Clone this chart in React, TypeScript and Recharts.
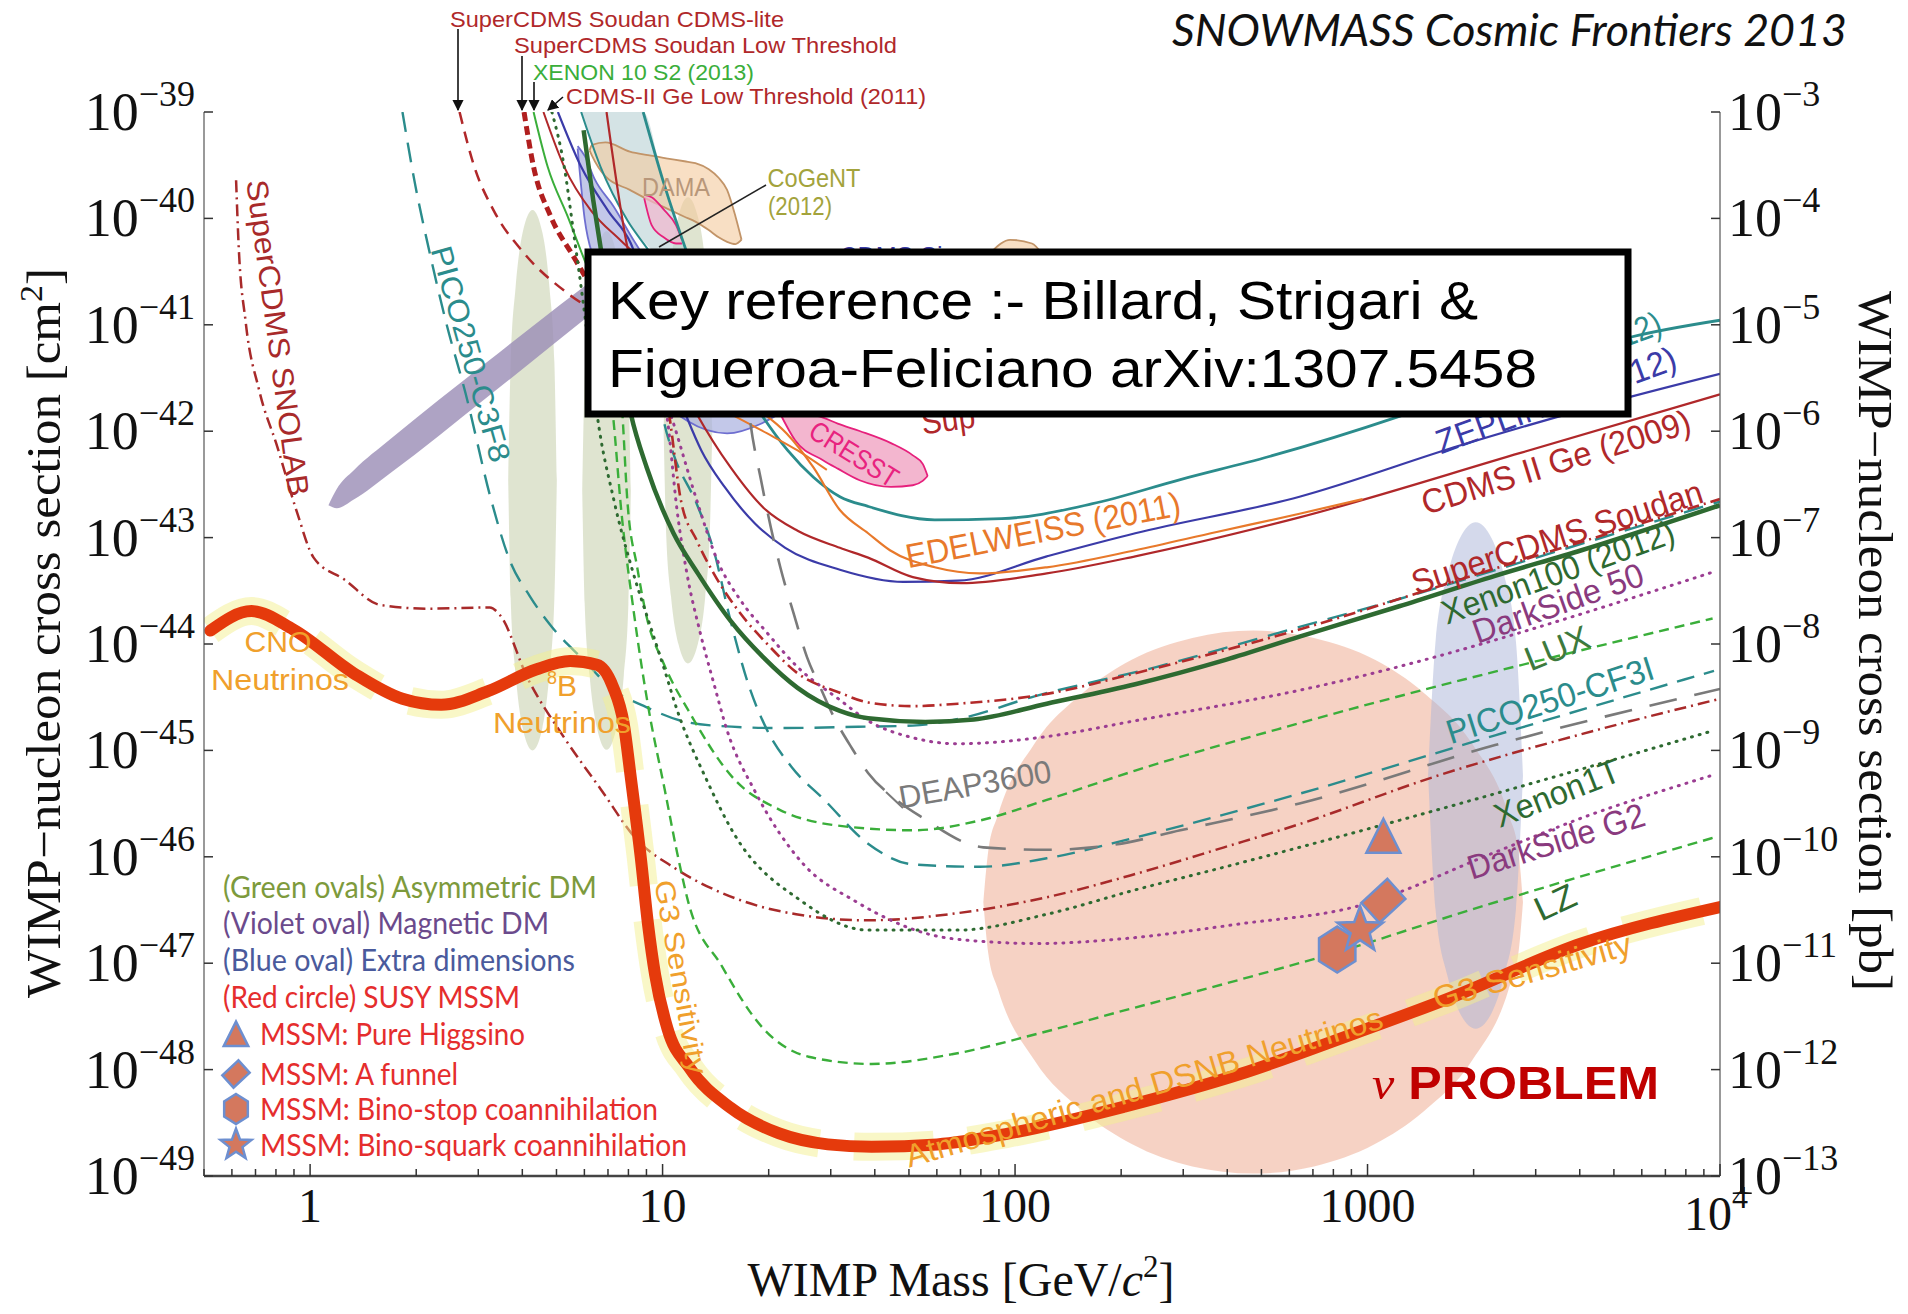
import { ComposedChart, Line, Area, Scatter, XAxis, YAxis } from 'recharts'

// every point is [log10 mass in GeV, log10 cross section in cm^2]
type P = [number, number]
// bands are [log10 mass, log10 lower edge, log10 upper edge]
type R = [number, number, number]

const nuFloor: P[] = [
  [-0.283, -43.874], [-0.166, -43.691], [-0.048, -43.863], [0.124, -44.275], [0.262, -44.515],
  [0.372, -44.572], [0.503, -44.446], [0.641, -44.24], [0.738, -44.16], [0.814, -44.195],
  [0.859, -44.4], [0.89, -44.755], [0.91, -45.259], [0.938, -46.003], [0.959, -46.643],
  [0.979, -47.112], [1.014, -47.616], [1.076, -47.982], [1.193, -48.359], [1.331, -48.6],
  [1.469, -48.703], [1.593, -48.726], [1.779, -48.703], [1.983, -48.6], [2.31, -48.348],
  [2.641, -48.039], [2.952, -47.673], [3.231, -47.33], [3.607, -46.815], [4.0, -46.472],
]

const snolab: P[] = [
  [-0.21, -39.641], [-0.203, -40.236], [-0.183, -40.968], [-0.145, -41.609], [-0.093, -42.147],
  [-0.038, -42.753], [0.01, -43.188], [0.097, -43.394], [0.2, -43.634], [0.338, -43.668],
  [0.51, -43.657], [0.538, -43.725], [0.617, -44.32], [0.721, -44.881], [0.824, -45.362],
  [0.928, -45.842], [1.034, -46.105], [1.207, -46.391], [1.379, -46.54], [1.583, -46.597],
  [1.838, -46.529], [2.09, -46.38], [2.341, -46.162], [2.593, -45.911], [2.807, -45.693],
  [3.19, -45.247], [3.607, -44.847], [4.0, -44.515],
]

const picoC3F8: P[] = [
  [0.262, -39.0], [0.297, -39.664], [0.338, -40.304], [0.386, -40.979], [0.441, -41.643],
  [0.514, -42.65], [0.566, -43.211], [0.624, -43.554], [0.686, -43.84], [0.772, -44.138],
  [0.862, -44.435], [0.955, -44.595], [1.052, -44.721], [1.145, -44.767], [1.334, -44.79],
  [1.555, -44.778], [1.71, -44.767], [1.848, -44.698], [2.055, -44.492], [2.4, -44.217],
  [2.745, -43.897], [3.09, -43.577], [3.434, -43.233], [4.0, -42.661],
]

const xenon100: P[] = [
  [0.776, -39.172], [0.803, -39.824], [0.824, -40.27], [0.866, -41.037], [0.91, -41.838],
  [0.955, -42.341], [1.031, -42.959], [1.1, -43.336], [1.193, -43.783], [1.286, -44.126],
  [1.383, -44.412], [1.503, -44.629], [1.583, -44.698], [1.745, -44.732], [1.883, -44.709],
  [2.09, -44.561], [2.341, -44.378], [2.597, -44.149], [2.807, -43.931], [3.09, -43.645],
  [3.362, -43.359], [3.607, -43.119], [4.0, -42.696],
]

const soudan: P[] = [
  [0.986, -41.151], [1.021, -41.895], [1.052, -42.65], [1.097, -43.027], [1.145, -43.336],
  [1.221, -43.714], [1.297, -44.0], [1.383, -44.275], [1.503, -44.458], [1.583, -44.549],
  [1.71, -44.584], [1.838, -44.561], [2.09, -44.469], [2.341, -44.275], [2.597, -44.057],
  [2.807, -43.863], [3.362, -43.291], [4.0, -42.638],
]

const picoCF3I: P[] = [
  [0.969, -41.151], [1.003, -41.895], [1.031, -42.215], [1.097, -42.684], [1.145, -43.119],
  [1.193, -43.783], [1.241, -44.355], [1.297, -44.812], [1.366, -45.156], [1.459, -45.465],
  [1.583, -45.877], [1.71, -46.071], [1.9, -46.094], [2.09, -46.014], [2.341, -45.819],
  [2.807, -45.407], [3.362, -44.858], [3.983, -44.252],
]

const deap3600: P[] = [
  [1.234, -41.494], [1.248, -41.895], [1.279, -42.455], [1.307, -42.902], [1.334, -43.279],
  [1.372, -43.714], [1.41, -44.126], [1.448, -44.412], [1.486, -44.687], [1.538, -44.984],
  [1.583, -45.213], [1.659, -45.453], [1.734, -45.625], [1.91, -45.911], [2.09, -45.934],
  [2.279, -45.888], [2.469, -45.751], [2.807, -45.499], [3.362, -44.95], [4.0, -44.423],
]

const lux: P[] = [
  [0.866, -41.037], [0.886, -41.838], [0.9, -42.65], [0.928, -43.279], [0.955, -43.748],
  [1.003, -44.183], [1.076, -44.641], [1.203, -45.27], [1.331, -45.556], [1.521, -45.716],
  [1.71, -45.751], [1.9, -45.659], [2.09, -45.465], [2.341, -45.19], [2.807, -44.744],
  [3.979, -43.76],
]

const lz: P[] = [
  [0.831, -41.151], [0.859, -41.838], [0.883, -42.753], [0.917, -43.668], [0.959, -44.584],
  [1.007, -45.384], [1.041, -45.957], [1.072, -46.414], [1.169, -47.032], [1.283, -47.604],
  [1.414, -47.879], [1.593, -47.947], [1.821, -47.856], [2.066, -47.661], [2.31, -47.444],
  [2.634, -47.158], [2.962, -46.849], [3.231, -46.563], [3.983, -45.819],
]

const xenon1T: P[] = [
  [0.686, -39.0], [0.721, -39.515], [0.748, -40.144], [0.769, -40.648], [0.793, -41.265],
  [0.814, -41.838], [0.862, -42.65], [0.917, -43.336], [0.966, -43.84], [1.003, -44.217],
  [1.041, -44.618], [1.124, -45.27], [1.203, -45.785], [1.393, -46.414], [1.583, -46.689],
  [1.838, -46.689], [2.09, -46.54], [2.341, -46.311], [2.597, -46.094], [2.807, -45.911],
  [3.362, -45.407], [3.983, -44.812],
]

const darkSide50: P[] = [
  [0.952, -41.151], [1.028, -41.895], [1.097, -42.65], [1.155, -43.211], [1.221, -43.588],
  [1.297, -43.897], [1.383, -44.217], [1.503, -44.526], [1.583, -44.721], [1.71, -44.881],
  [1.838, -44.938], [2.09, -44.87], [2.341, -44.721], [2.807, -44.435], [3.979, -43.325],
]

const darkSideG2: P[] = [
  [0.969, -41.151], [1.014, -41.895], [1.041, -42.741], [1.069, -43.336], [1.107, -43.897],
  [1.145, -44.366], [1.183, -44.812], [1.262, -45.384], [1.4, -46.071], [1.545, -46.414],
  [1.821, -46.769], [2.066, -46.815], [2.31, -46.769], [2.634, -46.632], [2.962, -46.472],
  [3.362, -45.957], [3.607, -45.636], [3.976, -45.236],
]

const simple2012: P[] = [
  [0.945, -39.0], [1.003, -39.664], [1.072, -40.35], [1.193, -41.38], [1.279, -41.838],
  [1.355, -42.181], [1.428, -42.433], [1.503, -42.616], [1.583, -42.707], [1.772, -42.833],
  [1.962, -42.822], [2.217, -42.684], [2.469, -42.455], [2.721, -42.238], [3.09, -41.86],
  [3.434, -41.449], [3.745, -41.117], [4.0, -40.957],
]

const tealEdge: P[] = [
  [0.769, -39.0], [0.824, -39.515], [0.9, -40.018], [0.966, -40.327], [1.055, -40.808],
]

const zeplin: P[] = [
  [0.703, -39.0], [0.769, -39.515], [0.845, -39.927], [0.91, -40.236], [1.003, -41.265],
  [1.072, -41.895], [1.11, -42.181], [1.176, -42.524], [1.262, -42.867], [1.348, -43.096],
  [1.503, -43.302], [1.683, -43.416], [1.838, -43.405], [2.09, -43.176], [2.341, -42.959],
  [2.807, -42.616], [3.262, -42.135], [3.745, -41.677], [4.0, -41.46],
]

const cdmsGe: P[] = [
  [0.841, -39.0], [0.9, -40.27], [0.986, -41.094], [1.097, -41.838], [1.193, -42.341],
  [1.286, -42.719], [1.383, -42.936], [1.503, -43.096], [1.583, -43.188], [1.71, -43.371],
  [1.848, -43.428], [2.09, -43.336], [2.341, -43.176], [2.807, -42.81], [3.434, -42.204],
  [4.0, -41.654],
]

const edelweiss: P[] = [
  [1.279, -41.815], [1.352, -42.021], [1.428, -42.341], [1.503, -42.741], [1.583, -42.959],
  [1.645, -43.119], [1.772, -43.279], [1.9, -43.336], [2.09, -43.279], [2.341, -43.119],
  [2.572, -42.947], [2.807, -42.776], [2.986, -42.638],
]

const edelweissLow: P[] = [[1.193, -41.838], [1.297, -42.021], [1.383, -42.181], [1.466, -42.364]]

const cdmsLite: P[] = [
  [0.424, -39.0], [0.466, -39.515], [0.521, -39.927], [0.607, -40.327], [0.731, -40.705],
  [0.848, -40.945], [0.986, -41.151],
]

const soudanLowThr: P[] = [
  [0.607, -39.0], [0.634, -39.515], [0.683, -39.984], [0.748, -40.362], [0.786, -40.579],
  [0.917, -41.265], [1.124, -41.666], [1.366, -41.815], [1.607, -41.792],
]

const xenon10S2: P[] = [[0.634, -39.0], [0.674, -39.515], [0.731, -39.984], [0.786, -40.453], [0.848, -40.922]]

const cdmsGeLowThr: P[] = [[0.662, -39.0], [0.721, -39.515], [0.797, -39.927], [0.879, -40.201], [0.986, -40.522]]

// shaded regions
const asymOvalA: R[] = [
  [0.562, -42.461, -42.461], [0.569, -43.571, -41.351], [0.583, -44.275, -40.648], [0.603, -44.79, -40.133],
  [0.631, -45.001, -39.921], [0.659, -44.79, -40.133], [0.679, -44.275, -40.648], [0.693, -43.571, -41.351],
  [0.7, -42.461, -42.461],
]
const asymOvalB: R[] = [
  [0.772, -42.558, -42.558], [0.779, -43.622, -41.494], [0.793, -44.297, -40.819], [0.814, -44.789, -40.327],
  [0.841, -44.995, -40.121], [0.869, -44.789, -40.327], [0.89, -44.297, -40.819], [0.903, -43.622, -41.494],
  [0.91, -42.558, -42.558],
]
const asymOvalC: R[] = [
  [1.003, -41.992, -41.992], [1.01, -42.947, -41.037], [1.024, -43.556, -40.428], [1.045, -44.001, -39.983],
  [1.072, -44.183, -39.801], [1.1, -44.001, -39.983], [1.121, -43.556, -40.428], [1.134, -42.947, -41.037],
  [1.141, -41.992, -41.992],
]
const magneticOval: R[] = [
  [0.052, -42.696, -42.696], [0.076, -42.724, -42.541], [0.124, -42.643, -42.368], [0.228, -42.394, -42.074],
  [0.503, -41.679, -41.347], [0.676, -41.22, -40.899], [0.814, -40.849, -40.551], [0.917, -40.545, -40.316],
]
const susyCircle: R[] = [
  [1.91, -46.426, -46.426], [1.924, -46.906, -45.945], [1.952, -47.249, -45.602], [2.055, -47.913, -44.938],
  [2.193, -48.394, -44.458], [2.331, -48.7, -44.149], [2.503, -48.91, -43.943], [2.676, -48.977, -43.874],
  [2.848, -48.91, -43.943], [3.021, -48.7, -44.149], [3.159, -48.394, -44.458], [3.297, -47.913, -44.938],
  [3.4, -47.249, -45.602], [3.428, -46.906, -45.945], [3.441, -46.426, -46.426],
]
const extraDimOval: R[] = [
  [3.172, -45.236, -45.236], [3.193, -46.494, -43.977], [3.228, -47.135, -43.336], [3.262, -47.467, -43.005],
  [3.307, -47.615, -42.856], [3.352, -47.467, -43.005], [3.386, -47.135, -43.336], [3.421, -46.494, -43.977],
  [3.441, -45.236, -45.236],
]
const dama: R[] = [
  [0.793, -39.36, -39.36], [0.8, -39.412, -39.309], [0.838, -39.606, -39.286], [0.907, -39.732, -39.372],
  [0.959, -39.824, -39.406], [1.01, -39.904, -39.435], [1.062, -39.984, -39.463], [1.093, -40.03, -39.481],
  [1.131, -40.11, -39.538], [1.159, -40.178, -39.618], [1.183, -40.22, -39.732], [1.207, -40.241, -39.984],
  [1.224, -40.2, -40.2],
]
const cresst: R[] = [
  [1.334, -41.838, -41.803], [1.376, -42.085, -41.826], [1.455, -42.272, -41.872], [1.497, -42.352, -41.929],
  [1.559, -42.461, -41.998], [1.648, -42.524, -42.112], [1.71, -42.508, -42.227], [1.738, -42.467, -42.307],
  [1.752, -42.421, -42.421],
]
const cogent: R[] = [
  [0.948, -39.812, -39.778], [0.969, -40.064, -39.801], [1.003, -40.178, -39.915], [1.038, -40.236, -40.064],
  [1.055, -40.236, -40.201],
]
const cdmsSi: R[] = [
  [0.759, -39.343, -39.32], [0.779, -40.007, -39.412], [0.807, -40.408, -39.629], [0.862, -40.865, -39.892],
  [0.917, -41.265, -40.201], [1.003, -41.724, -40.636], [1.072, -41.907, -40.979], [1.183, -42.021, -41.38],
  [1.279, -41.93, -41.666], [1.324, -41.849, -41.838],
]
const tealRegion: R[] = [
  [0.769, -39.0, -39.0], [0.824, -39.515, -39.0], [0.9, -40.018, -39.0], [0.945, -40.213, -39.0],
  [1.003, -40.407, -39.664], [1.072, -40.693, -40.35], [1.11, -40.865, -40.865],
]
const damaSmall: R[] = [[1.934, -40.31, -40.31], [1.986, -40.407, -40.201], [2.048, -40.407, -40.236], [2.076, -40.33, -40.33]]

// MSSM benchmark points
const higgsino: P[] = [[3.045, -45.83]]
const aFunnel: P[] = [[3.045, -46.414]]
const binoSquark: P[] = [[2.979, -46.689]]
const binoStop: P[] = [[2.914, -46.872]]

const massTicks = [
  0.5, 0.6, 0.7, 0.8, 0.9, 1, 2, 3, 4, 5, 6, 7, 8, 9, 10, 20, 30, 40, 50, 60, 70, 80, 90,
  100, 200, 300, 400, 500, 600, 700, 800, 900, 1000, 2000, 3000, 4000, 5000, 6000, 7000, 8000, 9000, 10000,
]
const cmExp = [-49, -48, -47, -46, -45, -44, -43, -42, -41, -40, -39]
const pbExp = [-13, -12, -11, -10, -9, -8, -7, -6, -5, -4, -3]

const toPts = (p: P[]) => p.map(([m, s]) => ({ m: 10 ** m, s: 10 ** s }))
const toBand = (r: R[]) => r.map(([m, lo, hi]) => ({ m: 10 ** m, r: [10 ** lo, 10 ** hi] }))

const SERIF = '"Liberation Serif", "DejaVu Serif", serif'
const SANS = '"Liberation Sans", Arial, sans-serif'
const CAL = 'Lato, "Open Sans", sans-serif'

const DARKRED = '#b0282a'
const TEAL = '#2b8c8c'
const INDIGO = '#3b3ba8'
const ORANGE = '#e8792b'
const LGREEN = '#3aae3a'
const DGREEN = '#2e6a31'
const PURPLE = '#9b3d92'
const GREY = '#7a7a7a'
const NU = '#f0a02c'

const DOT = '1 7'
const DASHDOT = '12 5 2 5'

const curves = [
  { id: 'snolab', d: snolab, c: '#a82a2a', w: 2.5, dash: DASHDOT },
  { id: 'cdmsLite', d: cdmsLite, c: DARKRED, w: 2.5, dash: '12 8' },
  { id: 'lowThr', d: soudanLowThr, c: '#b01e1e', w: 5, dash: '9 5' },
  { id: 'xe10', d: xenon10S2, c: LGREEN, w: 2 },
  { id: 'cdmsLT', d: cdmsGeLowThr, c: DARKRED, w: 2 },
  { id: 'tealEdge', d: tealEdge, c: TEAL, w: 2 },
  { id: 'simple', d: simple2012, c: TEAL, w: 2.8 },
  { id: 'zeplin', d: zeplin, c: INDIGO, w: 2.2 },
  { id: 'cdmsGe', d: cdmsGe, c: DARKRED, w: 2.2 },
  { id: 'edelLow', d: edelweissLow, c: ORANGE, w: 2 },
  { id: 'edel', d: edelweiss, c: ORANGE, w: 2.2 },
  { id: 'picoC3F8', d: picoC3F8, c: TEAL, w: 2.4, dash: '20 11' },
  { id: 'picoCF3I', d: picoCF3I, c: TEAL, w: 2.4, dash: '18 10' },
  { id: 'deap', d: deap3600, c: GREY, w: 2.6, dash: '28 18' },
  { id: 'lux', d: lux, c: LGREEN, w: 2.4, dash: '10 6' },
  { id: 'lz', d: lz, c: LGREEN, w: 2.4, dash: '10 6' },
  { id: 'ds50', d: darkSide50, c: PURPLE, w: 3, dash: DOT, cap: 'round' },
  { id: 'dsG2', d: darkSideG2, c: PURPLE, w: 3, dash: DOT, cap: 'round' },
  { id: 'xe1t', d: xenon1T, c: DGREEN, w: 3, dash: DOT, cap: 'round' },
  { id: 'soudan', d: soudan, c: '#b32a2a', w: 2.6, dash: DASHDOT },
  { id: 'xe100', d: xenon100, c: DGREEN, w: 4.5 },
]

const regions = [
  { id: 'susy', d: susyCircle, fill: '#f2c1ad', op: 0.72 },
  { id: 'xdim', d: extraDimOval, fill: '#aab3d8', op: 0.5 },
  { id: 'asymA', d: asymOvalA, fill: '#c9d2b0', op: 0.6 },
  { id: 'asymB', d: asymOvalB, fill: '#c9d2b0', op: 0.6 },
  { id: 'asymC', d: asymOvalC, fill: '#c9d2b0', op: 0.6 },
  { id: 'magnetic', d: magneticOval, fill: '#9a8cb5', op: 0.8 },
  { id: 'teal', d: tealRegion, fill: '#b7d0d3', op: 0.6 },
  { id: 'dama', d: dama, fill: '#f4c99c', op: 0.6, stroke: '#c29468' },
  { id: 'damaSmall', d: damaSmall, fill: '#f4c99c', op: 0.6, stroke: '#c29468' },
  { id: 'cdmsSi', d: cdmsSi, fill: '#a9b1e0', op: 0.7, stroke: '#6e6ed0' },
  { id: 'cogent', d: cogent, fill: '#f2b6cf', op: 0.7, stroke: '#e6207c' },
  { id: 'cresst', d: cresst, fill: '#ec8fb5', op: 0.65, stroke: '#e6207c' },
]

const MK_FILL = '#d4785e'
const MK_STROKE = '#6d8fd0'

const triShape = (cx: number, cy: number, k = 1) => (
  <polygon
    points={`${cx},${cy - 20 * k} ${cx - 17 * k},${cy + 14 * k} ${cx + 17 * k},${cy + 14 * k}`}
    fill={MK_FILL}
    stroke={MK_STROKE}
    strokeWidth={2.5}
  />
)
const diamondShape = (cx: number, cy: number, k = 1) => (
  <polygon
    points={`${cx + 4 * k},${cy - 22 * k} ${cx + 22 * k},${cy - 2 * k} ${cx - 4 * k},${cy + 22 * k} ${cx - 22 * k},${cy + 2 * k}`}
    fill={MK_FILL}
    stroke={MK_STROKE}
    strokeWidth={2.5}
  />
)
const hexShape = (cx: number, cy: number, k = 1) => {
  const pts = [0, 60, 120, 180, 240, 300].map((a) => {
    const t = ((a - 90) * Math.PI) / 180
    return `${cx + 21 * k * Math.cos(t)},${cy + 23 * k * Math.sin(t)}`
  })
  return <polygon points={pts.join(' ')} fill={MK_FILL} stroke={MK_STROKE} strokeWidth={2.5} />
}
const starShape = (cx: number, cy: number, k = 1) => {
  const pts: string[] = []
  for (let i = 0; i < 10; i++) {
    const r = (i % 2 === 0 ? 24 : 10) * k
    const t = ((i * 36 - 90) * Math.PI) / 180
    pts.push(`${cx + r * Math.cos(t)},${cy + r * Math.sin(t)}`)
  }
  return <polygon points={pts.join(' ')} fill={MK_FILL} stroke={MK_STROKE} strokeWidth={2.5} />
}

const isDecade = (v: number) => Math.abs(Math.log10(v) - Math.round(Math.log10(v))) < 1e-6

function MassTick({ x, y, payload }: any) {
  const v = payload.value as number
  const major = isDecade(v)
  const e = Math.round(Math.log10(v))
  return (
    <g>
      <line x1={x} x2={x} y1={y} y2={y - (major ? 12 : 7)} stroke="#333" strokeWidth={1.5} />
      {major && e < 4 && (
        <text x={x} y={y + 46} textAnchor="middle" fontFamily={SERIF} fontSize={48} fill="#111">{v}</text>
      )}
      {major && e === 4 && (
        <text x={x - 4} y={y + 54} textAnchor="middle" fontFamily={SERIF} fontSize={48} fill="#111">
          10<tspan dy={-22} fontSize={32}>4</tspan>
        </text>
      )}
    </g>
  )
}

function TopTick({ x, y, payload }: any) {
  const major = isDecade(payload.value)
  return <line x1={x} x2={x} y1={y} y2={y + (major ? 12 : 7)} stroke="#555" strokeWidth={1.2} />
}

function CmTick({ x, y, payload }: any) {
  const e = Math.round(Math.log10(payload.value))
  return (
    <g>
      <line x1={x} x2={x + 9} y1={y} y2={y} stroke="#333" strokeWidth={1.5} />
      <text x={x - 9} y={y + 18} textAnchor="end" fontFamily={SERIF} fontSize={54} fill="#111">
        10<tspan dy={-24} fontSize={36}>{'\u2212' + -e}</tspan>
      </text>
    </g>
  )
}

function PbTick({ x, y, payload }: any) {
  const e = Math.round(Math.log10(payload.value))
  return (
    <g>
      <line x1={x - 9} x2={x} y1={y} y2={y} stroke="#333" strokeWidth={1.5} />
      <text x={x + 8} y={y + 18} textAnchor="start" fontFamily={SERIF} fontSize={54} fill="#111">
        10<tspan dy={-24} fontSize={36}>{'\u2212' + -e}</tspan>
      </text>
    </g>
  )
}

type Tag = { t: string; x: number; y: number; a?: number; c: string; fs: number; w?: number }

// labels along the curves, centred on (x, y)
const curveTags: Tag[] = [
  { t: 'SuperCDMS SNOLAB', x: 278, y: 338, a: 82.3, c: '#a82a2a', fs: 30, w: 319 },
  { t: 'PICO250-C3F8', x: 471, y: 354, a: 74.2, c: TEAL, fs: 30, w: 223 },
  { t: 'DAMA', x: 676, y: 187, c: '#b8977a', fs: 26, w: 68 },
  { t: 'CoGeNT', x: 814, y: 178, c: '#a3a33c', fs: 26, w: 93 },
  { t: '(2012)', x: 800, y: 206, c: '#a3a33c', fs: 26, w: 64 },
  { t: 'CDMS Si', x: 891, y: 256, c: INDIGO, fs: 28, w: 103 },
  { t: 'CRESST', x: 854, y: 454, a: 32, c: '#e8237f', fs: 28, w: 99 },
  { t: 'EDELWEISS (2011)', x: 1043, y: 530, a: -11, c: ORANGE, fs: 34, w: 279 },
  { t: 'CDMS II Ge  (2009)', x: 1556, y: 462, a: -17.3, c: DARKRED, fs: 34, w: 280 },
  { t: 'ZEPLIN III (2012)', x: 1556, y: 400, a: -19.9, c: INDIGO, fs: 34, w: 253 },
  { t: 'SIMPLE (2012)', x: 1566, y: 356, a: -20, c: TEAL, fs: 34, w: 200 },
  { t: 'Sup', x: 948, y: 419, a: -8, c: DARKRED, fs: 34, w: 54 },
  { t: 'SuperCDMS Soudan', x: 1557, y: 537, a: -17.8, c: DARKRED, fs: 34, w: 304 },
  { t: 'Xenon100 (2012)', x: 1558, y: 572, a: -19.8, c: DGREEN, fs: 34, w: 245 },
  { t: 'DarkSide 50', x: 1558, y: 603, a: -19.5, c: '#8a3a7e', fs: 34, w: 179 },
  { t: 'LUX', x: 1557, y: 648, a: -22, c: '#3d7a3d', fs: 34, w: 67 },
  { t: 'PICO250-CF3I', x: 1550, y: 700, a: -17.8, c: TEAL, fs: 34, w: 216 },
  { t: 'DEAP3600', x: 975, y: 784, a: -10, c: GREY, fs: 32, w: 154 },
  { t: 'Xenon1T', x: 1557, y: 793, a: -21.3, c: DGREEN, fs: 34, w: 132 },
  { t: 'DarkSide G2', x: 1556, y: 841, a: -17.4, c: '#8a3a7e', fs: 34, w: 184 },
  { t: 'LZ', x: 1555, y: 902, a: -25, c: DGREEN, fs: 34, w: 42 },
  { t: 'CNO', x: 278, y: 641, c: NU, fs: 30, w: 67 },
  { t: 'Neutrinos', x: 280, y: 679, c: NU, fs: 30, w: 138 },
  { t: 'Neutrinos', x: 562, y: 722, c: NU, fs: 30, w: 138 },
  { t: 'G3 Sensitivity', x: 681, y: 977, a: 80, c: NU, fs: 28, w: 197 },
  { t: 'Atmospheric and DSNB Neutrinos', x: 1144, y: 1087, a: -16.4, c: NU, fs: 32, w: 496 },
  { t: 'G3 Sensitivity', x: 1532, y: 971, a: -15.9, c: NU, fs: 32, w: 205 },
]

// experiment names above the frame, with arrows down to the axis
const topTags = [
  { t: 'SuperCDMS Soudan CDMS-lite', x: 450, y: 27, w: 334, c: DARKRED },
  { t: 'SuperCDMS Soudan Low Threshold', x: 514, y: 53, w: 383, c: DARKRED },
  { t: 'XENON 10 S2 (2013)', x: 533, y: 80, w: 221, c: LGREEN },
  { t: 'CDMS-II Ge Low Threshold (2011)', x: 566, y: 104, w: 360, c: DARKRED },
]
const arrows = [
  [458, 29, 458, 110],
  [522, 56, 522, 110],
  [534, 82, 534, 110],
  [563, 97, 548, 110],
]

const legendRows = [
  { t: '(Green ovals) Asymmetric DM', x: 223, y: 898, w: 374, c: '#7d9a3c' },
  { t: '(Violet oval) Magnetic DM', x: 223, y: 934, w: 326, c: '#6b4a8c' },
  { t: '(Blue oval) Extra dimensions', x: 223, y: 971, w: 352, c: '#4a5a9c' },
  { t: '(Red circle) SUSY MSSM', x: 223, y: 1008, w: 297, c: '#e52d2d' },
  { t: 'MSSM: Pure Higgsino', x: 260, y: 1045, w: 265, c: '#e52d2d' },
  { t: 'MSSM: A funnel', x: 260, y: 1085, w: 198, c: '#e52d2d' },
  { t: 'MSSM: Bino-stop coannihilation', x: 260, y: 1120, w: 398, c: '#e52d2d' },
  { t: 'MSSM: Bino-squark coannihilation', x: 260, y: 1156, w: 427, c: '#e52d2d' },
]

function Overlay() {
  return (
    <svg width={1908} height={1314} style={{ position: 'absolute', left: 0, top: 0, pointerEvents: 'none' }}>
      <defs>
        <marker id="arr" viewBox="0 0 10 10" refX="9" refY="5" markerWidth="7" markerHeight="7" orient="auto">
          <path d="M0,0 L10,5 L0,10 z" fill="#111" />
        </marker>
      </defs>

      {curveTags.map((g, i) => (
        <text
          key={i}
          transform={`translate(${g.x},${g.y}) rotate(${g.a ?? 0})`}
          textAnchor="middle"
          dy="0.35em"
          fontFamily={SANS}
          fontSize={g.fs}
          fill={g.c}
          textLength={g.w}
          lengthAdjust="spacingAndGlyphs"
        >
          {g.t}
        </text>
      ))}
      <text x={562} y={696} textAnchor="middle" fontFamily={SANS} fontSize={30} fill={NU}>
        <tspan fontSize={18} dy={-12}>8</tspan>
        <tspan dy={12}>B</tspan>
      </text>

      <line x1={766} y1={185} x2={659} y2={247} stroke="#222" strokeWidth={1.5} />
      <line x1={886} y1={792} x2={903} y2={808} stroke={GREY} strokeWidth={2} />

      {topTags.map((g, i) => (
        <text key={i} x={g.x} y={g.y} fontFamily={SANS} fontSize={22} fill={g.c} textLength={g.w} lengthAdjust="spacingAndGlyphs">
          {g.t}
        </text>
      ))}
      {arrows.map(([x1, y1, x2, y2], i) => (
        <line key={i} x1={x1} y1={y1} x2={x2} y2={y2} stroke="#111" strokeWidth={1.6} markerEnd="url(#arr)" />
      ))}

      {legendRows.map((g, i) => (
        <text key={i} x={g.x} y={g.y} fontFamily={CAL} fontSize={30} fill={g.c} textLength={g.w} lengthAdjust="spacingAndGlyphs">
          {g.t}
        </text>
      ))}
      {triShape(236, 1036, 0.72)}
      {diamondShape(236, 1074, 0.62)}
      {hexShape(236, 1109, 0.65)}
      {starShape(236, 1145, 0.68)}

      <text x={1372} y={1099} fontFamily={SANS} fontWeight="bold" fontSize={46} fill="#c00000" textLength={287} lengthAdjust="spacingAndGlyphs">
        <tspan fontFamily={SERIF} fontWeight="normal" fontStyle="italic">ν</tspan> PROBLEM
      </text>

      <text x={1172} y={46} fontFamily={CAL} fontStyle="italic" fontSize={44} fill="#111" textLength={675} lengthAdjust="spacingAndGlyphs">
        SNOWMASS Cosmic Frontiers 2013
      </text>

      <text transform="translate(43,633) rotate(-90)" textAnchor="middle" dy="0.35em" fontFamily={SERIF} fontSize={48} fill="#111" textLength={730} lengthAdjust="spacingAndGlyphs">
        WIMP{'\u2212'}nucleon cross section [cm<tspan dy={-18} fontSize={32}>2</tspan><tspan dy={18}>]</tspan>
      </text>
      <text transform="translate(1876,641) rotate(90)" textAnchor="middle" dy="0.35em" fontFamily={SERIF} fontSize={48} fill="#111" textLength={700} lengthAdjust="spacingAndGlyphs">
        WIMP{'\u2212'}nucleon cross section [pb]
      </text>
      <text x={961} y={1296} textAnchor="middle" fontFamily={SERIF} fontSize={48} fill="#111">
        WIMP Mass [GeV/<tspan fontStyle="italic">c</tspan><tspan dy={-19} fontSize={31}>2</tspan><tspan dy={19}>]</tspan>
      </text>

      <rect x={588} y={252} width={1040} height={162} fill="#fff" stroke="#000" strokeWidth={7} />
      <text x={608} y={319} fontFamily={SANS} fontSize={54} fill="#000" textLength={870} lengthAdjust="spacingAndGlyphs">
        Key reference :- Billard, Strigari &amp;
      </text>
      <text x={608} y={387} fontFamily={SANS} fontSize={54} fill="#000" textLength={929} lengthAdjust="spacingAndGlyphs">
        Figueroa-Feliciano arXiv:1307.5458
      </text>
    </svg>
  )
}

export default function App() {
  return (
    <div style={{ position: 'absolute', left: 0, top: 0, width: 1908, height: 1314, background: '#fff' }}>
      <ComposedChart width={1908} height={1314} margin={{ top: 112, right: 0, bottom: 0, left: 0 }}>
        <XAxis
          dataKey="m"
          type="number"
          scale="log"
          domain={[0.5, 10000]}
          allowDataOverflow
          ticks={massTicks}
          interval={0}
          height={138}
          tickSize={0}
          tickMargin={0}
          tickLine={false}
          axisLine={{ stroke: '#444', strokeWidth: 2.5 }}
          tick={<MassTick />}
        />
        <XAxis
          xAxisId="top"
          orientation="top"
          dataKey="m"
          type="number"
          scale="log"
          domain={[0.5, 10000]}
          allowDataOverflow
          ticks={massTicks}
          interval={0}
          height={0}
          tickSize={0}
          tickMargin={0}
          tickLine={false}
          axisLine={{ stroke: '#666', strokeWidth: 1.2 }}
          tick={<TopTick />}
        />
        <YAxis
          type="number"
          scale="log"
          domain={[1e-49, 1e-39]}
          allowDataOverflow
          ticks={cmExp.map((e) => 10 ** e)}
          interval={0}
          width={204}
          tickSize={0}
          tickMargin={0}
          tickLine={false}
          axisLine={{ stroke: '#555', strokeWidth: 1.2 }}
          tick={<CmTick />}
        />
        <YAxis
          yAxisId="pb"
          orientation="right"
          type="number"
          scale="log"
          domain={[1e-13, 1e-3]}
          allowDataOverflow
          ticks={pbExp.map((e) => 10 ** e)}
          interval={0}
          width={188}
          tickSize={0}
          tickMargin={0}
          tickLine={false}
          axisLine={{ stroke: '#555', strokeWidth: 1.2 }}
          tick={<PbTick />}
        />

        {regions.map((g) => (
          <Area
            key={g.id}
            data={toBand(g.d)}
            dataKey="r"
            type="monotone"
            fill={g.fill}
            fillOpacity={g.op}
            stroke={g.stroke ?? 'none'}
            strokeWidth={g.stroke ? 1.8 : 0}
            dot={false}
            activeDot={false}
            isAnimationActive={false}
          />
        ))}

        {curves.map((g) => (
          <Line
            key={g.id}
            data={toPts(g.d)}
            dataKey="s"
            type="monotone"
            stroke={g.c}
            strokeWidth={g.w}
            strokeDasharray={g.dash}
            strokeLinecap={(g.cap as any) ?? 'butt'}
            dot={false}
            activeDot={false}
            isAnimationActive={false}
          />
        ))}

        <Line
          data={toPts(nuFloor)}
          dataKey="s"
          type="monotone"
          stroke="#f3ef8f"
          strokeOpacity={0.5}
          strokeWidth={28}
          strokeDasharray="80 35"
          dot={false}
          activeDot={false}
          isAnimationActive={false}
        />
        <Line
          data={toPts(nuFloor)}
          dataKey="s"
          type="monotone"
          stroke="#e53a0c"
          strokeWidth={12}
          strokeLinecap="round"
          dot={false}
          activeDot={false}
          isAnimationActive={false}
        />

        <Scatter data={toPts(higgsino)} dataKey="s" isAnimationActive={false} shape={(p: any) => triShape(p.cx, p.cy)} />
        <Scatter data={toPts(aFunnel)} dataKey="s" isAnimationActive={false} shape={(p: any) => diamondShape(p.cx, p.cy)} />
        <Scatter data={toPts(binoStop)} dataKey="s" isAnimationActive={false} shape={(p: any) => hexShape(p.cx, p.cy)} />
        <Scatter data={toPts(binoSquark)} dataKey="s" isAnimationActive={false} shape={(p: any) => starShape(p.cx, p.cy)} />
      </ComposedChart>
      <Overlay />
    </div>
  )
}
